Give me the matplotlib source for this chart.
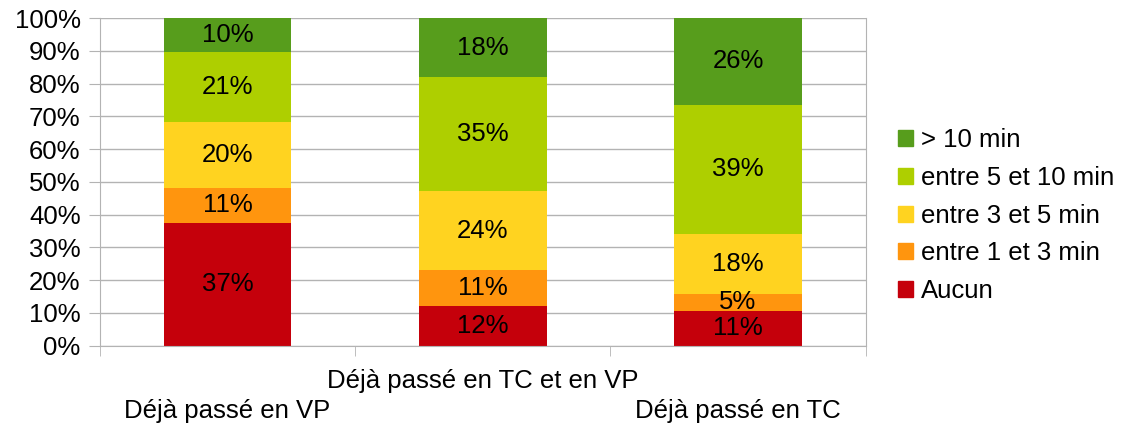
import matplotlib.pyplot as plt
from matplotlib.patches import Patch
import numpy as np

plt.rcParams['font.family'] = ['Liberation Sans', 'DejaVu Sans']

categories = ['Déjà passé en VP', 'Déjà passé en TC et en VP', 'Déjà passé en TC']
series = ['Aucun', 'entre 1 et 3 min', 'entre 3 et 5 min', 'entre 5 et 10 min', '> 10 min']
aucun = [37.4, 12.2, 10.6]
entre_1_3 = [10.8, 10.9, 5.2]
entre_3_5 = [20.1, 24.1, 18.4]
entre_5_10 = [21.3, 34.8, 39.4]
plus_10 = [10.4, 18.0, 26.4]
values = [aucun, entre_1_3, entre_3_5, entre_5_10, plus_10]
colors = ['#c5000b', '#ff950e', '#ffd320', '#aecf00', '#579d1c']

fs = 18.5

fig = plt.figure(figsize=(11.3, 4.25), dpi=100)
ax = fig.add_axes([0.0885, 0.1866, 0.6775, 0.771])

x = np.arange(len(categories))
bottom = np.zeros(len(categories))
for name, vals, col in zip(series, values, colors):
    vals = np.array(vals)
    ax.bar(x, vals, 0.5, bottom=bottom, color=col, label=name, zorder=2)
    for xi, b, v in zip(x, bottom, vals):
        ax.text(xi, b + v / 2, f'{int(round(v))}%', ha='center', va='center',
                fontsize=fs, color='black', zorder=3)
    bottom += vals

ax.set_xlim(-0.5, 2.5)
ax.set_ylim(0, 100)
ax.set_yticks(np.arange(0, 101, 10))
ax.set_yticklabels([f'{v}%' for v in range(0, 101, 10)], fontsize=fs)
ax.yaxis.grid(True, color='#b3b3b3', lw=1, zorder=0)
ax.tick_params(axis='y', length=8, color='#b3b3b3', pad=6)

ax.set_xticks(x)
ax.set_xticklabels(['\n' + categories[0], categories[1], '\n' + categories[2]], fontsize=fs)
ax.tick_params(axis='x', which='major', length=0, pad=17)
ax.set_xticks([-0.5, 0.5, 1.5, 2.5], minor=True)
ax.tick_params(axis='x', which='minor', length=7.5, color='#b3b3b3')
for lbl in ax.get_xticklabels():
    lbl.set_linespacing(1.3)

for s in ['left', 'right', 'bottom']:
    ax.spines[s].set_color('#b3b3b3')
ax.spines['top'].set_visible(False)

handles = [Patch(color=c) for c in colors[::-1]]
ax.legend(handles, series[::-1], loc='center left', bbox_to_anchor=(1.042, 0.397),
          frameon=False, fontsize=fs, handlelength=0.58, handleheight=0.58,
          handletextpad=0.31, labelspacing=0.54, borderaxespad=0, borderpad=0)

fig.savefig('out.png', dpi=100)
